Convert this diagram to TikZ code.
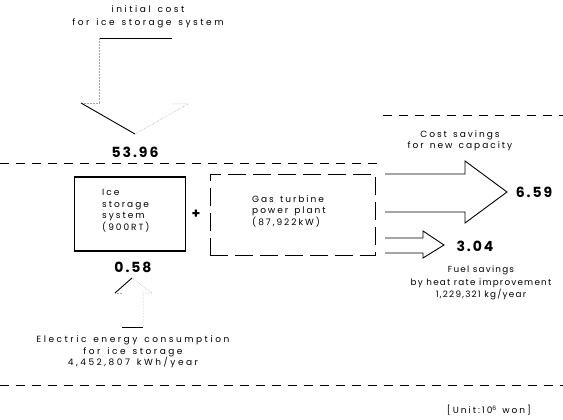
\documentclass[tikz,border=0pt]{standalone}
\usepackage{fontspec}
\setmainfont{Poppins}
\newfontfamily\lblfont[LetterSpace=28,WordSpace=1.4]{Poppins}
\newfontfamily\lbltight[LetterSpace=14,WordSpace=1.4]{Poppins}
\newfontfamily\lblmid[LetterSpace=22,WordSpace=1.4]{Poppins}
\newfontfamily\numfont[LetterSpace=14]{Poppins}
\begin{document}
\begin{tikzpicture}[x=1pt,y=-1pt,
  lbl/.style={inner sep=0pt,align=center,font=\lblfont\fontsize{9}{12.5}\selectfont},
  boxtxt/.style={inner sep=0pt,align=left,font=\lblmid\fontsize{9}{11.7}\selectfont},
  num/.style={inner sep=0pt,font=\numfont\bfseries\fontsize{14}{14}\selectfont},
  sep/.style={line width=0.8pt,dash pattern=on 9pt off 7pt},
  faint/.style={line width=0.5pt,gray!70,densely dotted},
  arr/.style={line width=0.9pt,line join=miter}]
\useasboundingbox (0,0) rectangle (563,420);

% top: initial cost
\node[lbl,font=\lblfont\fontsize{9}{13}\selectfont] (init) at (148,16.5) {initial cost\\for ice storage system};
\coordinate (dl) at (99,38);
\coordinate (dr) at (172,38);
\draw[arr] (dl) -- (dr);
\draw[faint] (dl) -- (99,103);
\draw[faint] (99,103) -- (81,103);
\draw[arr] (81,103) -- (135,134);
\draw[faint] (135,134) -- (188,104) -- (172,104);
\node[num] (v1) at (135,152) {53.96};

% separators
\draw[sep] (0,163) -- (383,163);
\draw[sep] (383,115) -- (563,115);
\draw[sep] (0,385) -- (563,385);

% boxes
\node[draw,line width=1.2pt,minimum width=111pt,minimum height=74pt,inner sep=0pt] (ice) at (130,214) {};
\node[boxtxt,anchor=north west] (icet) at (102,189) {Ice\\storage\\system\\(900RT)};
\node[inner sep=0pt,font=\bfseries\fontsize{14}{14}\selectfont] (plus) at (196,214) {+};
\node[draw,line width=0.9pt,dash pattern=on 18pt off 7pt,minimum width=165pt,minimum height=81pt,inner sep=0pt] (gas) at (292.5,214.5) {};
\node[boxtxt,anchor=north west] (gast) at (252,195) {Gas turbine\\power plant\\(87,922kW)};

% big arrow: cost savings for new capacity
\draw[arr] (385,174) -- (465,174) -- (465,161) -- (507,192) -- (465,223) -- (465,212) -- (385,212);
\node[num] (v2) at (534,192) {6.59};
\node[lbl,font=\lblmid\fontsize{9}{11.5}\selectfont] (cost) at (460,140.5) {Cost savings\\for new capacity};

% small arrow: fuel savings
\draw[arr] (385,238) -- (423,238) -- (423,231) -- (444,245) -- (423,258) -- (423,253) -- (385,253);
\node[num] (v3) at (475,246) {3.04};
\node[lbl,font=\lbltight\fontsize{8.8}{12.8}\selectfont] (fuel) at (481,283) {Fuel savings\\by heat rate improvement\\1,229,321 kg/year};

% up arrow: electric energy
\node[num] (v4) at (133,267) {0.58};
\draw[arr] (115,293) -- (132,278);
\draw[faint] (132,278) -- (152,293) -- (143,293) -- (143,327);
\draw[faint] (115,293) -- (122,293);
\draw[arr] (122,327) -- (143,327);
\node[lbl,font=\lblfont\fontsize{9}{11.7}\selectfont] (elec) at (133,352) {Electric energy consumption\\for ice storage\\4,452,807 kWh/year};

% unit
\node[lbl,font=\lblmid\fontsize{9}{12}\selectfont] (unit) at (489,410) {[Unit:10\raisebox{0.6ex}{\fontsize{6}{6}\selectfont 6} won]};
\end{tikzpicture}
\end{document}
